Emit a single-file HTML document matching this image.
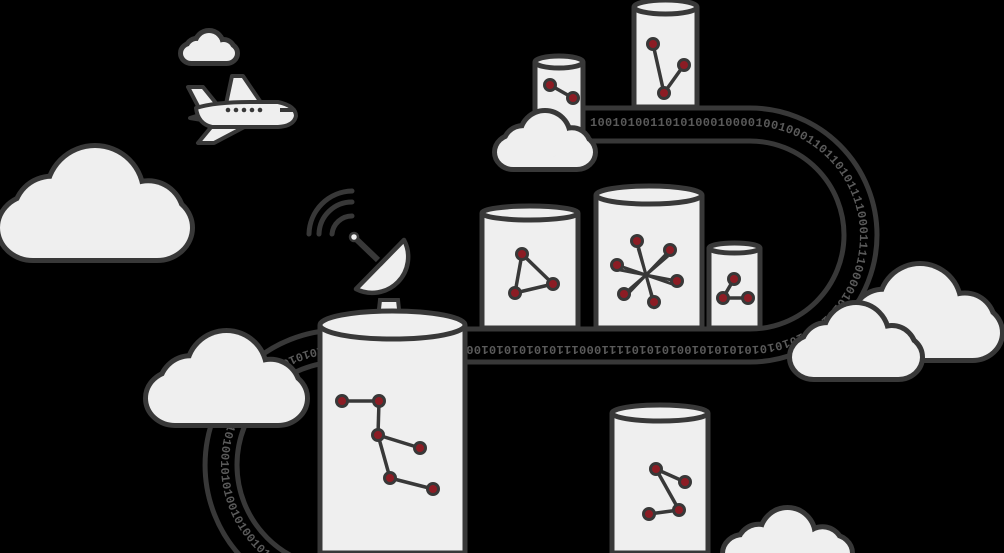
<!DOCTYPE html>
<html><head><meta charset="utf-8"><style>
html,body{margin:0;padding:0;background:#000;width:1004px;height:553px;overflow:hidden;}
svg{display:block;}
</style></head><body>
<svg id="s" width="1004" height="553" viewBox="0 0 1004 553" xmlns="http://www.w3.org/2000/svg">
<defs>
<path id="tp" d="M 590 126 H 750 A 110 110 0 0 1 750 346 H 340 A 119 119 0 0 0 340 584"/>
</defs>
<rect width="1004" height="553" fill="#000"/>
<g fill="none" stroke="#383838" stroke-width="5">
<path d="M 585 108 H 750 A 127 127 0 0 1 750 362 H 340"/>
<path d="M 585 141 H 750 A 94 94 0 0 1 750 329 H 340"/>
<path d="M 340 330 A 135 135 0 0 0 340 600"/>
<path d="M 340 362 A 103 103 0 0 0 340 568"/>
</g>
<text font-family="Liberation Mono, monospace" font-size="12" fill="#5a5a5a" font-weight="bold" letter-spacing="0.3"><textPath href="#tp">10010100110101000100001001000110110101111000111100001010101010101010101010100101010111100011101010101010010100100100101001001010101010101010010100101010010100101001001010101010100101001010010101010010101001010100101001010100101010101010010101010010101010010101001010101001010100101010101001010101010010101</textPath></text>
<g id="g"></g>
</svg>
<script>
const S='#383838',F='#efefef',R='#8c1c24';
let h='';
function cyl(x1,x2,ty,by,ry){
 const cx=(x1+x2)/2,rx=(x2-x1)/2;
 h+=`<path d="M${x1} ${ty} V${by} H${x2} V${ty}" fill="${F}" stroke="${S}" stroke-width="5"/>`;
 h+=`<ellipse cx="${cx}" cy="${ty}" rx="${rx}" ry="${ry}" fill="${F}" stroke="${S}" stroke-width="5"/>`;
}
function cloud(x,y,w,hh){
 const parts=[['r',x,y+0.45*hh,w,0.55*hh,0.3*hh],['c',x+0.5*w,y+0.42*hh,0.42*hh],['c',x+0.27*w,y+0.6*hh,0.32*hh],['c',x+0.78*w,y+0.62*hh,0.3*hh]];
 const mk=(p,st)=>p[0]=='r'?`<rect x="${p[1]}" y="${p[2]}" width="${p[3]}" height="${p[4]}" rx="${p[5]}" ${st}/>`:`<circle cx="${p[1]}" cy="${p[2]}" r="${p[3]}" ${st}/>`;
 parts.forEach(p=>h+=mk(p,`fill="${S}" stroke="${S}" stroke-width="10"`));
 parts.forEach(p=>h+=mk(p,`fill="${F}"`));
}
function net(nodes,edges){
 edges.forEach(e=>{const a=nodes[e[0]],b=nodes[e[1]];h+=`<line x1="${a[0]}" y1="${a[1]}" x2="${b[0]}" y2="${b[1]}" stroke="${S}" stroke-width="3.5"/>`;});
 nodes.forEach(n=>h+=`<circle cx="${n[0]}" cy="${n[1]}" r="5.5" fill="${R}" stroke="${S}" stroke-width="3"/>`);
}
cyl(535,583,62,140,6);
net([[550,85],[573,98]],[[0,1]]);
cyl(634,697,7,107,7);
net([[653,44],[664,93],[684,65]],[[0,1],[1,2]]);
cloud(497,113,96,54);
cyl(482,578,213,328,7);
net([[522,254],[515,293],[553,284]],[[0,1],[1,2],[2,0]]);
cyl(596,702,195,328,9);
const c=[646,275];const st=[[637,241],[670,250],[617,265],[677,281],[624,294],[654,302]];
st.forEach(n=>h+=`<line x1="${n[0]}" y1="${n[1]}" x2="${2*c[0]-n[0]}" y2="${2*c[1]-n[1]}" stroke="${S}" stroke-width="3"/>`);
net(st,[]);
cyl(709,760,248,328,5);
net([[734,279],[723,298],[748,298]],[[0,1],[1,2]]);
cyl(612,708,413,553,8);
net([[656,469],[685,482],[679,510],[649,514]],[[0,1],[0,2],[2,3]]);
cloud(0,148,190,110);
cloud(148,333,157,90);
cloud(840,266,160,92);
cloud(792,305,128,72);
cloud(725,510,125,60);
cloud(183,33,52,28);
h+=`<g fill="none" stroke="${S}" stroke-width="5" stroke-linecap="round">
<path d="M 309 234 A 44 44 0 0 1 352 191"/><path d="M 319 234 A 33 33 0 0 1 352 202"/><path d="M 332 234 A 20 20 0 0 1 352 216"/></g>`;
h+=`<line x1="354" y1="237" x2="378" y2="260" stroke="${S}" stroke-width="6"/>`;
h+=`<circle cx="354" cy="237" r="4" fill="${F}" stroke="${S}" stroke-width="2.5"/>`;
h+=`<path d="M 378 318 L 380 300 L 398 300 L 400 318 Z" fill="${F}" stroke="${S}" stroke-width="4"/>`;
h+=`<path d="M 404 240 A 36 36 0 0 1 356 289 Z" fill="${F}" stroke="${S}" stroke-width="4.5" stroke-linejoin="round"/>`;
cyl(320,465,325,553,14);
net([[342,401],[379,401],[378,435],[420,448],[390,478],[433,489]],[[0,1],[1,2],[2,3],[2,4],[4,5]]);
h+=`<g fill="${F}" stroke="${S}" stroke-width="4" stroke-linejoin="round">
<path d="M 188 87 L 203 87 L 220 108 L 200 110 Z"/>
<path d="M 190 118 L 206 113 L 208 121 Z"/>
<path d="M 226 104 L 232 76 L 243 76 L 262 104 Z"/>
<path d="M 212 126 L 198 143 L 214 143 L 250 124 Z"/>
<path d="M 196 108 Q 215 102 250 102 L 278 102 Q 296 106 296 116 Q 294 126 278 127 L 212 127 Q 198 124 196 108 Z"/>
</g>`;
for(let i=0;i<5;i++)h+=`<circle cx="${228+i*8}" cy="110" r="2.3" fill="${S}"/>`;
h+=`<path d="M 280 108 L 293 108 L 294 112 L 280 112 Z" fill="${S}"/>`;
document.getElementById('g').innerHTML=h;
</script>
</body></html>
